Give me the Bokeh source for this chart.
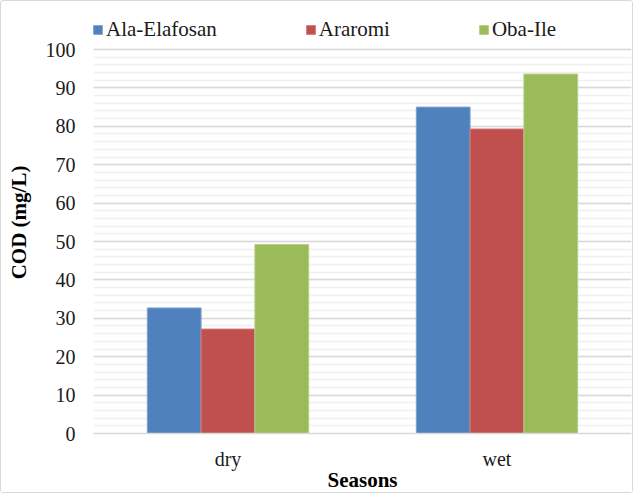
from bokeh.plotting import figure
from bokeh.models import (ColumnDataSource, FactorRange, Range1d, Legend, LegendItem,
                          FixedTicker)
from bokeh.transform import dodge
from bokeh.embed import file_html
from bokeh.resources import INLINE

seasons = ["dry", "wet"]
locations = ["Ala-Elafosan", "Araromi", "Oba-Ile"]
ala_elafosan = [32.7, 85.0]
araromi = [27.2, 79.3]
oba_ile = [49.2, 93.6]
colors = ["#4F81BD", "#C0504D", "#9BBB59"]
edge_colors = ["#7FA3D0", "#D07A78", "#B5CF85"]
y_major_ticks = [0, 10, 20, 30, 40, 50, 60, 70, 80, 90, 100]
y_minor_ticks = list(range(0, 101, 2))

src = ColumnDataSource(dict(season=seasons, a=ala_elafosan, b=araromi, c=oba_ile))

# frame extended above 100 so the legend sits inside it (unclipped)
p = figure(width=633, height=493, x_range=FactorRange(*seasons), y_range=Range1d(0, 109.9),
           output_backend="svg", toolbar_location=None,
           min_border_left=92, min_border_right=3, min_border_top=10, min_border_bottom=61)
p.outline_line_color = None
p.background_fill_color = "white"
p.border_fill_color = "white"

renderers = []
for i, (col, c, ec) in enumerate(zip(["a", "b", "c"], colors, edge_colors)):
    r = p.vbar(x=dodge("season", -0.2 + 0.2 * i, range=p.x_range), top=col, width=0.2,
               source=src, fill_color=c, line_color=ec, line_width=1)
    renderers.append(r)

# y axis
p.yaxis.ticker = FixedTicker(ticks=y_major_ticks, minor_ticks=y_minor_ticks)
p.yaxis.axis_line_color = None
p.yaxis.major_tick_line_color = None
p.yaxis.minor_tick_line_color = None
p.yaxis.major_tick_out = 0
p.yaxis.major_tick_in = 0
p.yaxis.minor_tick_out = 0
p.yaxis.major_label_text_font = "Liberation Serif"
p.yaxis.major_label_text_font_size = "20px"
p.yaxis.major_label_text_color = "#1a1a1a"
p.yaxis.major_label_standoff = 18
p.yaxis.axis_label = "COD (mg/L)"
p.yaxis.axis_label_text_font = "Liberation Serif"
p.yaxis.axis_label_text_font_style = "bold"
p.yaxis.axis_label_text_font_size = "21px"
p.yaxis.axis_label_standoff = 12
p.yaxis.axis_label_text_color = "black"

# x axis
p.xaxis.axis_line_color = "#d9d9d9"
p.xaxis.axis_line_width = 1.5
p.xaxis.major_tick_line_color = None
p.xaxis.minor_tick_line_color = None
p.xaxis.major_tick_out = 0
p.xaxis.major_tick_in = 0
p.xaxis.major_label_text_font = "Liberation Serif"
p.xaxis.major_label_text_font_size = "20px"
p.xaxis.major_label_text_color = "#1a1a1a"
p.xaxis.major_label_standoff = 14
p.xaxis.axis_label = "Seasons"
p.xaxis.axis_label_text_font = "Liberation Serif"
p.xaxis.axis_label_text_font_style = "bold"
p.xaxis.axis_label_text_font_size = "21px"
p.xaxis.axis_label_standoff = -5
p.xaxis.axis_label_text_color = "black"

# grids
p.xgrid.grid_line_color = None
p.ygrid.grid_line_color = "#d9d9d9"
p.ygrid.grid_line_width = 1.5
p.ygrid.minor_grid_line_color = "#f0f0f0"
p.ygrid.minor_grid_line_width = 1.5
p.ygrid.level = "underlay"

legend = Legend(items=[LegendItem(label=l, renderers=[r]) for l, r in zip(locations, renderers)],
                orientation="horizontal", location=(-1, 391),
                label_text_font="Liberation Serif", label_text_font_size="21px",
                label_text_color="#1a1a1a",
                glyph_width=11, glyph_height=11, label_standoff=3, spacing=88,
                padding=0, margin=0, border_line_color=None, background_fill_alpha=0)
p.add_layout(legend, "center")

p.styles = {"border": "1.5px solid #d9d9d9", "border-radius": "3px", "box-sizing": "border-box"}

open("out.html", "w").write(file_html(p, INLINE))
